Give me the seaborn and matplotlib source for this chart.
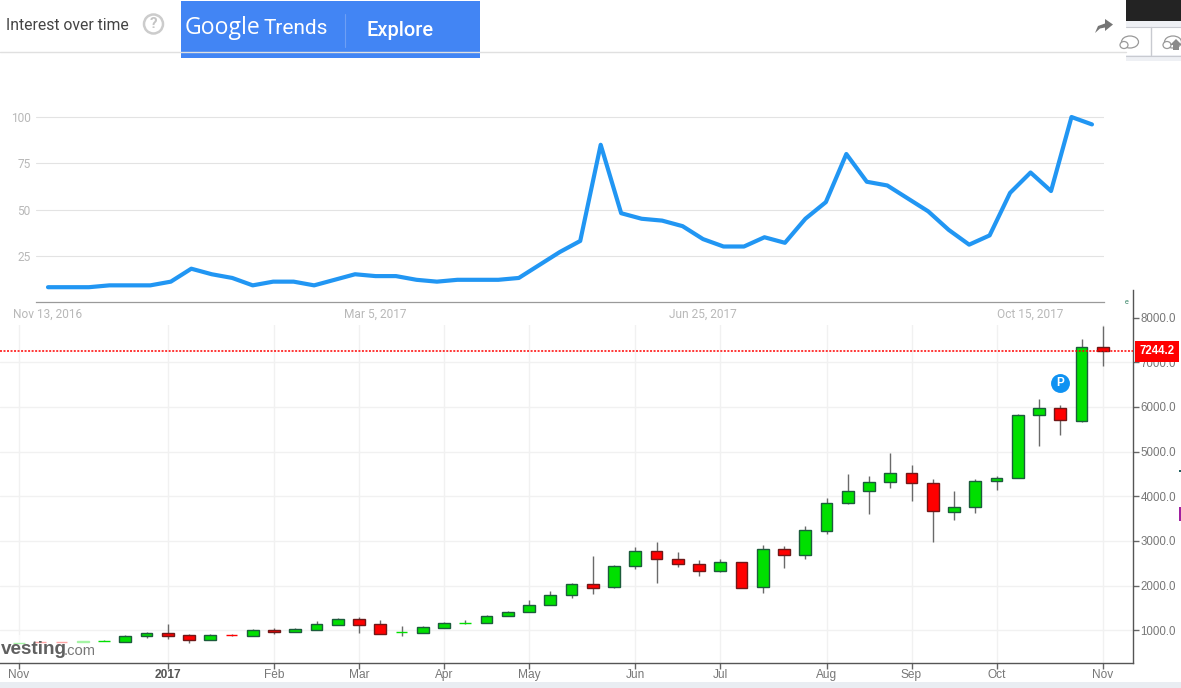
import numpy as np
import pandas as pd
import matplotlib
matplotlib.use('Agg')
import matplotlib.pyplot as plt
from matplotlib.patches import Rectangle, Circle, Ellipse, Polygon
import seaborn as sns

# google trends, weekly
trend_values = [8, 8, 8, 9, 9, 9, 11, 18, 15, 13, 9, 11, 11, 9, 12, 15, 14, 14, 12, 11,
                12, 12, 12, 13, 20, 27, 33, 85, 48, 45, 44, 41, 34, 30, 30, 35, 32, 45,
                54, 80, 65, 63, 56, 49, 39, 31, 36, 59, 70, 60, 100, 96]
trend_ticks = [25, 50, 75, 100]
trend_label_weeks = [0, 16, 32, 48]
trend_labels = ['Nov 13, 2016', 'Mar 5, 2017', 'Jun 25, 2017', 'Oct 15, 2017']

# weekly candles
opens = [705, 730, 735, 745, 755, 745, 860, 930, 888, 790, 888, 880, 1000, 970, 1015, 1127,
         1247, 1135, 955, 933, 1060, 1150, 1157, 1307, 1404, 1562, 1786, 2034, 1966, 2438,
         2775, 2595, 2483, 2326, 2528, 1966, 2827, 2693, 3229, 3855, 4123, 4324, 4526, 4302,
         3654, 3766, 4347, 4414, 5828, 5985, 5693, 7348]
closes = [715, 725, 725, 752, 760, 865, 930, 880, 790, 888, 885, 1000, 970, 1020, 1135, 1247,
          1127, 925, 960, 1067, 1157, 1157, 1315, 1404, 1562, 1786, 2034, 1944, 2438, 2775,
          2595, 2483, 2326, 2528, 1944, 2827, 2693, 3252, 3855, 4123, 4324, 4526, 4302, 3676,
          3766, 4347, 4414, 5822, 5985, 5715, 7348, 7244]
highs = [715, 730, 735, 752, 775, 900, 955, 1140, 918, 910, 918, 1020, 1045, 1045, 1210, 1277,
         1290, 1232, 1097, 1097, 1180, 1232, 1345, 1427, 1682, 1884, 2064, 2670, 2468, 2872,
         2985, 2752, 2580, 2595, 2528, 2917, 2879, 3326, 3952, 4488, 4444, 4958, 4689, 4377,
         4108, 4377, 4459, 5852, 6187, 6052, 7513, 7813]
lows = [705, 725, 725, 745, 750, 745, 835, 813, 723, 790, 873, 880, 925, 970, 1015, 1127,
        948, 925, 873, 933, 1060, 1142, 1157, 1307, 1404, 1562, 1711, 1801, 1936, 2363,
        2049, 2408, 2206, 2303, 1944, 1824, 2395, 2596, 3147, 3818, 3602, 4183, 3892, 2976,
        3468, 3624, 4138, 4414, 5121, 5370, 5663, 6914]
price_ticks = [1000, 2000, 3000, 4000, 5000, 6000, 7000, 8000]
month_weeks = [0, 7, 12, 16, 20, 24, 29, 33, 38, 42, 46, 51]
month_labels = ['Nov', '2017', 'Feb', 'Mar', 'Apr', 'May', 'Jun', 'Jul', 'Aug', 'Sep', 'Oct', 'Nov']
last_price = 7244.2
p_week = 49
p_price = 6544

W, H = 1181, 688


def px_axes(left, top, right, bottom):
    return [left / W, 1 - bottom / H, (right - left) / W, (bottom - top) / H]


sns.set_theme(style='white')
plt.rcParams['font.family'] = ['Liberation Sans', 'DejaVu Sans']

fig = plt.figure(figsize=(11.81, 6.88), dpi=100, facecolor='white')

# candle panel
ax = fig.add_axes(px_axes(0, 290, 1133, 663), zorder=1)
df = pd.DataFrame({'week': np.arange(len(opens)), 'open': opens, 'close': closes,
                   'high': highs, 'low': lows})
df['up'] = df['close'] >= df['open']
df['thin'] = (df['close'] - df['open']).abs() < 12

ax.set_xlim((0 - 19) / 21.25, (1133 - 19) / 21.25)
ax.set_ylim(265, 8620)
ax.set_axisbelow(True)
ax.grid(True, color='#f1f1f1', lw=1.0)
ax.vlines(df['week'], df['low'], df['high'], color='#6a6a6a', lw=1.0, zorder=2)
body_colors = ['#00e000' if u else '#ff0000' for u in df['up']]
edge_colors = [c if t else ('#1c5c3c' if u else '#701818')
               for c, t, u in zip(body_colors, df['thin'], df['up'])]
ax.bar(df['week'], (df['close'] - df['open']).abs(), bottom=df[['open', 'close']].min(axis=1),
       width=0.56, color=body_colors, edgecolor=edge_colors, linewidth=1.0, zorder=3)
ax.axhline(last_price, color='#ff0000', lw=1.1, ls=(0, (1.3, 1.0)), zorder=4)
ax.scatter([p_week], [p_price], s=185, color='#0f92f2', zorder=5, linewidths=0)
ax.text(p_week, p_price, 'P', color='white', fontsize=8.5, fontweight='bold',
        ha='center', va='center', zorder=6)

ax.yaxis.tick_right()
ax.set_yticks(price_ticks)
ax.set_yticklabels([f'{v:.1f}' for v in price_ticks])
ax.set_xticks(month_weeks)
ax.set_xticklabels(month_labels)
ax.tick_params(axis='y', length=4, width=1, color='#666666', labelcolor='#777777',
               labelsize=8.3, pad=1.5, right=True)
ax.tick_params(axis='x', length=4, width=1, color='#666666', labelcolor='#777777',
               labelsize=8.6, pad=0.5, bottom=True)
ax.get_xticklabels()[1].set_fontweight('bold')
ax.get_xticklabels()[1].set_color('#555555')
for side in ['top', 'left']:
    ax.spines[side].set_visible(False)
for side in ['right', 'bottom']:
    ax.spines[side].set_color('#555555')
    ax.spines[side].set_linewidth(1.0)
ax.annotate(f'{last_price:.1f}', xy=(1, last_price), xycoords=ax.get_yaxis_transform(),
            xytext=(4.5, 0), textcoords='offset points', color='white', fontsize=8.3,
            fontweight='bold', va='center', ha='left', annotation_clip=False, zorder=8,
            bbox=dict(boxstyle='square,pad=0.4', fc='#ff0000', ec='none'))

# overlay in pixel coordinates: page chrome and screenshot pieces
page = fig.add_axes([0, 0, 1, 1], zorder=2, facecolor='none')
page.set_xlim(0, W)
page.set_ylim(H, 0)
page.axis('off')
page.add_patch(Rectangle((0, 0), 1132, 325, fc='white', ec='none'))
page.add_patch(Rectangle((0, 635), 94, 25, fc='white', ec='none', alpha=0.65, zorder=3))
page.add_patch(Rectangle((0, 682), W, 6, fc='#e9edf2', ec='none'))
page.plot([0, 1126], [52, 52], color='#e0e0e0', lw=1)

page.text(6, 25, 'Interest over time', family='Roboto', fontsize=11.3, color='#444444',
          va='center', ha='left')
page.add_patch(Circle((153.5, 24), 9.5, fc='none', ec='#cccccc', lw=1.8))
page.text(153.5, 24.5, '?', family='Roboto', fontsize=11, fontweight='bold', color='#c4c4c4',
          va='center', ha='center')

page.add_patch(Rectangle((181, 1), 299, 57, fc='#4285f4', ec='none'))
page.text(184.5, 28, 'Google', family='Open Sans', fontsize=16.6, color='white', va='center', ha='left')
page.text(264, 28.5, 'Trends', family='Roboto', fontsize=15, color='white', va='center', ha='left')
page.plot([344.5, 344.5], [14, 47], color='#6d9ff5', lw=0.8)
page.text(367, 30, 'Explore', family='Roboto', fontsize=14.4, fontweight='medium', color='white',
          va='center', ha='left')

# share arrow
page.add_patch(Polygon([[1095, 33], [1098, 26], [1105, 23.5], [1105, 19], [1113, 24.5],
                        [1105, 31], [1105, 27.5], [1100, 28.5]], fc='#757575', ec='none'))

# cut off toolbar at top right
page.add_patch(Rectangle((1126, 0), 55, 21, fc='#232323', ec='none'))
page.add_patch(Rectangle((1126, 21), 55, 6, fc='#eef0f4', ec='none'))
page.add_patch(Rectangle((1126, 55), 55, 6, fc='#eef0f4', ec='none'))
page.plot([1126, 1181], [26.5, 26.5], color='#c8cad0', lw=0.8)
page.plot([1126, 1181], [55.5, 55.5], color='#c8cad0', lw=0.8)
page.plot([1150.5, 1150.5], [27, 55], color='#c8cad0', lw=1)
for cx in [1130, 1173]:
    page.add_patch(Ellipse((cx, 42), 17, 12, fc='white', ec='#999999', lw=0.9))
    page.add_patch(Ellipse((cx - 6, 45), 8, 7, fc='white', ec='#999999', lw=0.9))
page.add_patch(Polygon([[1173, 50], [1173, 45], [1170, 45], [1176, 39], [1182, 45],
                        [1179, 45], [1179, 50]], fc='#8a8a8a', ec='none'))

page.text(1127, 302, 'e', fontsize=5, color='#2f7f5f', va='center', ha='center')
page.add_patch(Rectangle((1178.5, 507), 3, 14, fc='#a020a0', ec='none'))
page.add_patch(Rectangle((1179, 470), 2, 1.5, fc='#206060', ec='none'))

# investing.com logo
page.text(0.5, 650, 'vesting', fontsize=13.6, fontweight='bold', color='#606060',
          va='center', ha='left', zorder=4)
page.text(64, 651, '.com', fontsize=10.6, color='#777777', va='center', ha='left', zorder=4)

# trends panel
tr = fig.add_axes(px_axes(36, 100, 1104, 302), zorder=3, facecolor='none')
weeks = np.arange(len(trend_values))
sns.lineplot(x=weeks, y=trend_values, ax=tr, color='#2196f3', lw=3.0, errorbar=None)
tr.set_xlim((36 - 48) / 20.47, (1104 - 48) / 20.47)
tr.set_ylim(0, 109.2)
tr.set_yticks(trend_ticks)
tr.set_xticks(trend_label_weeks)
tr.set_xticklabels(trend_labels, family='Roboto')
for lab in tr.get_yticklabels():
    lab.set_family('Roboto')
tr.set_axisbelow(True)
tr.grid(True, axis='y', color='#e3e3e3', lw=0.8)
tr.tick_params(axis='both', length=0, labelcolor='#b8b8b8', labelsize=8.6)
tr.tick_params(axis='y', pad=4)
tr.tick_params(axis='x', pad=4)
tr.set_xlabel('')
tr.set_ylabel('')
for side in ['top', 'left', 'right']:
    tr.spines[side].set_visible(False)
tr.spines['bottom'].set_color('#9a9a9a')
tr.spines['bottom'].set_linewidth(0.9)

fig.savefig('out.png', dpi=100)
